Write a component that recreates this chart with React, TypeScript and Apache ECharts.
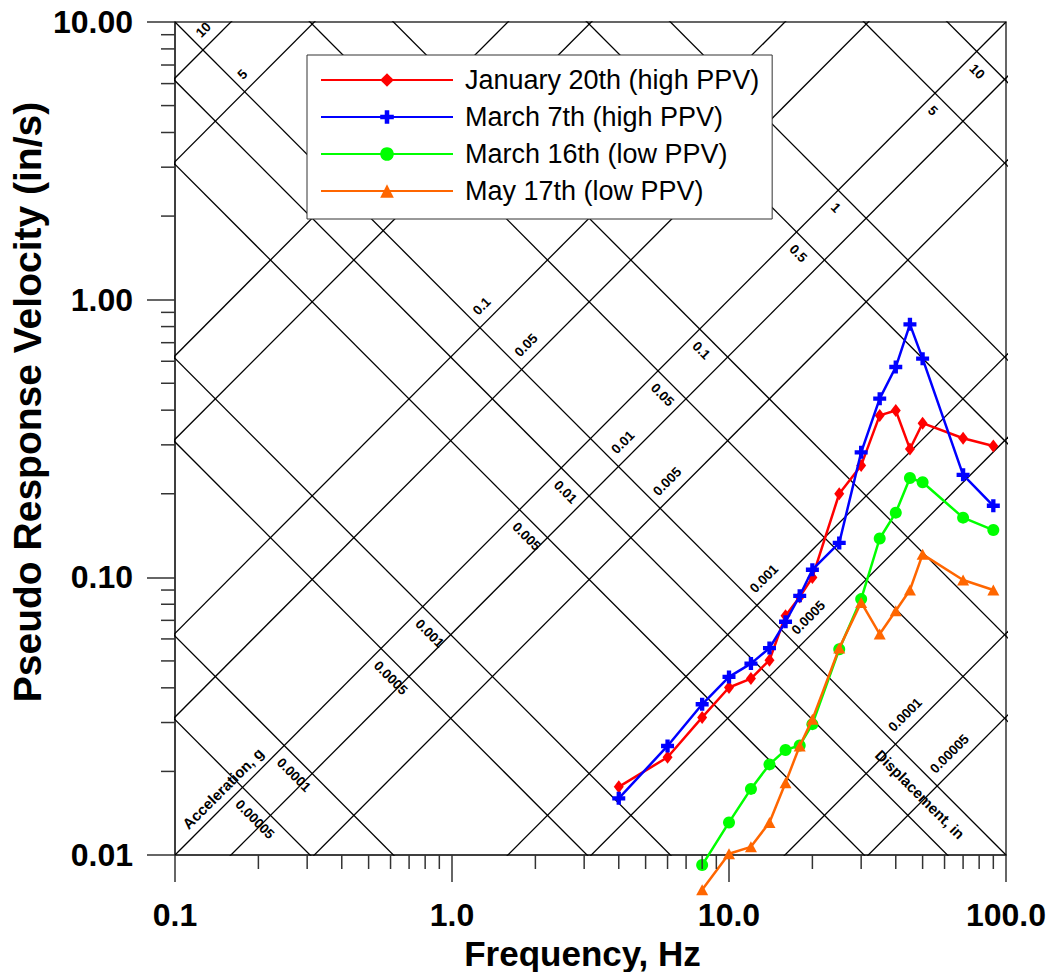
import React, { useEffect, useRef } from "react";
import * as echarts from "echarts";

// ---- data ----
const frequencies = [4, 6, 8, 10, 12, 14, 16, 18, 20, 25, 30, 35, 40, 45, 50, 70, 90];
const lowFrequencies = [8, 10, 12, 14, 16, 18, 20, 25, 30, 35, 40, 45, 50, 70, 90];
const jan20 = [0.0176, 0.0225, 0.0313, 0.0401, 0.0432, 0.0503, 0.0727, 0.085, 0.0999, 0.2, 0.253, 0.383, 0.399, 0.29, 0.359, 0.317, 0.297];
const mar7 = [0.016, 0.0247, 0.0349, 0.0438, 0.0489, 0.0556, 0.0692, 0.0858, 0.1065, 0.133, 0.282, 0.44, 0.572, 0.815, 0.613, 0.234, 0.181];
const mar16 = [0.0092, 0.0131, 0.0173, 0.0212, 0.0239, 0.0248, 0.0296, 0.0551, 0.0835, 0.138, 0.171, 0.228, 0.22, 0.164, 0.148];
const may17 = [0.0075, 0.0101, 0.0107, 0.0131, 0.0182, 0.0247, 0.0308, 0.0556, 0.0812, 0.0625, 0.0758, 0.09, 0.121, 0.0978, 0.09];

const seriesNames = ["January 20th (high PPV)", "March 7th (high PPV)", "March 16th (low PPV)", "May 17th (low PPV)"];
const seriesColors = ["#ff0000", "#0000ff", "#00ff00", "#ff6600"];

const displacementValues = [10, 5, 1, 0.5, 0.1, 0.05, 0.01, 0.005, 0.001, 0.0005, 0.0001, 0.00005];
const displacementLabels = ["10", "5", "1", "0.5", "0.1", "0.05", "0.01", "0.005", "0.001", "0.0005", "0.0001", "0.00005"];
const accelerationValues = [10, 5, 1, 0.5, 0.1, 0.05, 0.01, 0.005, 0.001, 0.0005, 0.0001, 0.00005];
const accelerationLabels = ["10", "5", "1", "0.5", "0.1", "0.05", "0.01", "0.005", "0.001", "0.0005", "0.0001", "0.00005"];

const xTickValues = [0.1, 1, 10, 100];
const xTickLabels = ["0.1", "1.0", "10.0", "100.0"];
const yTickValues = [0.01, 0.1, 1, 10];
const yTickLabels = ["0.01", "0.10", "1.00", "10.00"];
const minorMultipliers = [2, 3, 4, 5, 6, 7, 8, 9];

const X_MIN = 0.1, X_MAX = 100, Y_MIN = 0.01, Y_MAX = 10;
const G_IN = 386.09; // in/s^2 per g
const FONT = '"Liberation Sans", Arial, sans-serif';

const findLabel = (vals: number[], labels: string[], v: number) => {
  const i = vals.findIndex((t) => Math.abs(Math.log10(t) - Math.log10(v)) < 1e-6);
  return i >= 0 ? labels[i] : "";
};

export default function App() {
  const ref = useRef<HTMLDivElement>(null);
  useEffect(() => {
    if (!ref.current) return;
    const chart = echarts.init(ref.current, undefined, { renderer: "svg" });

    const gridLine = (data: number[][]) => ({
      type: "line",
      data,
      symbol: "none",
      silent: true,
      clip: true,
      z: 1,
      lineStyle: { color: "#000", width: 1.3 },
      emphasis: { disabled: true },
    });

    const fLo = 0.01, fHi = 1000;
    const dispSeries = displacementValues.map((D) =>
      gridLine([[fLo, 2 * Math.PI * fLo * D], [fHi, 2 * Math.PI * fHi * D]])
    );
    const accSeries = accelerationValues.map((A) =>
      gridLine([[fLo, (A * G_IN) / (2 * Math.PI * fLo)], [fHi, (A * G_IN) / (2 * Math.PI * fHi)]])
    );
    const diagSeries = [
      gridLine([[X_MIN, Y_MIN], [X_MAX, Y_MAX]]),
      gridLine([[X_MIN, Y_MAX], [X_MAX, Y_MIN]]),
    ];

    const xMinor: number[][] = [];
    [0.1, 1, 10].forEach((d) => minorMultipliers.forEach((m) => xMinor.push([d * m, 1])));
    const yMinor: number[][] = [];
    [0.01, 0.1, 1].forEach((d) => minorMultipliers.forEach((m) => yMinor.push([1, d * m])));

    const tickColor = "#333";
    const minorX = {
      type: "custom",
      silent: true,
      clip: false,
      z: 5,
      data: xMinor,
      renderItem: (params: any, api: any) => {
        const cs = params.coordSys;
        const x = api.coord([api.value(0), 1])[0];
        const y0 = cs.y + cs.height;
        return { type: "line", shape: { x1: x, y1: y0, x2: x, y2: y0 + 14 }, style: { stroke: tickColor, lineWidth: 1.5 } };
      },
    };
    const minorY = {
      type: "custom",
      silent: true,
      clip: false,
      z: 5,
      data: yMinor,
      renderItem: (params: any, api: any) => {
        const cs = params.coordSys;
        const y = api.coord([1, api.value(1)])[1];
        const x0 = cs.x;
        return { type: "line", shape: { x1: x0 - 14, y1: y, x2: x0, y2: y }, style: { stroke: tickColor, lineWidth: 1.5 } };
      },
    };

    const plusPath = "path://M4,0H8V4H12V8H8V12H4V8H0V4H4Z";
    const dataSeries = [
      { xs: frequencies, ys: jan20, symbol: "diamond", size: [10, 13] },
      { xs: frequencies, ys: mar7, symbol: plusPath, size: 13 },
      { xs: lowFrequencies, ys: mar16, symbol: "circle", size: 12 },
      { xs: lowFrequencies, ys: may17, symbol: "triangle", size: [12, 11] },
    ].map((s, k) => ({
      name: seriesNames[k],
      type: "line",
      data: s.xs.map((f, i) => [f, s.ys[i]]),
      symbol: s.symbol,
      symbolSize: s.size,
      showAllSymbol: true,
      clip: false,
      z: 3 + k * 0.01,
      itemStyle: { color: seriesColors[k] },
      lineStyle: { color: seriesColors[k], width: 2.5 },
      emphasis: { disabled: true },
    }));

    chart.setOption({
      animation: false,
      grid: { left: 175, right: 48, top: 22, bottom: 117, show: true, borderColor: tickColor, borderWidth: 1.5, backgroundColor: "transparent" },
      xAxis: {
        type: "log",
        logBase: 10,
        min: X_MIN,
        max: X_MAX,
        axisLine: { lineStyle: { color: tickColor, width: 1.5 } },
        axisTick: { length: 27, lineStyle: { color: tickColor, width: 1.5 } },
        splitLine: { show: false },
        minorTick: { show: false },
        axisLabel: {
          margin: 44,
          fontSize: 32,
          fontWeight: "bold",
          color: "#000",
          fontFamily: FONT,
          formatter: (v: number) => findLabel(xTickValues, xTickLabels, v),
        },
      },
      yAxis: {
        type: "log",
        logBase: 10,
        min: Y_MIN,
        max: Y_MAX,
        axisLine: { show: true, lineStyle: { color: tickColor, width: 1.5 } },
        axisTick: { show: true, length: 28, lineStyle: { color: tickColor, width: 1.5 } },
        splitLine: { show: false },
        axisLabel: {
          margin: 42,
          fontSize: 32,
          fontWeight: "bold",
          color: "#000",
          fontFamily: FONT,
          formatter: (v: number) => findLabel(yTickValues, yTickLabels, v),
        },
      },
      legend: {
        data: seriesNames,
        orient: "vertical",
        left: 307,
        top: 55,
        padding: [11, 13, 14, 13],
        itemGap: 9,
        itemWidth: 132,
        itemHeight: 17,
        backgroundColor: "#fff",
        borderColor: "#333",
        borderWidth: 1,
        borderRadius: 0,
        selectedMode: false,
        textStyle: { fontSize: 27, color: "#000", fontFamily: FONT, lineHeight: 28, padding: [0, 0, 0, 7] },
        lineStyle: { width: 2 },
      },
      series: [...dispSeries, ...accSeries, ...diagSeries, minorX, minorY, ...dataSeries],
    });

    const toPx = (f: number, v: number) => chart.convertToPixel({ gridIndex: 0 } as any, [f, v]) as number[];
    const textStyle = (text: string, size: number, align: string) => ({
      text,
      fontSize: size,
      fontWeight: "bold",
      fontFamily: FONT,
      fill: "#000",
      textAlign: align,
      align,
      textVerticalAlign: "middle",
      verticalAlign: "middle",
    });
    const graphics: any[] = [];
    accelerationValues.forEach((A, i) => {
      const f = Math.sqrt((10 * G_IN * A) / (2 * Math.PI));
      const [px, py] = toPx(f, f / 10);
      graphics.push({
        type: "text",
        x: px - 4.95,
        y: py + 14.85,
        rotation: -Math.PI / 4,
        z: 1,
        silent: true,
        style: textStyle(accelerationLabels[i], 13.5, "left"),
      });
    });
    displacementValues.forEach((D, i) => {
      const f = 1 / Math.sqrt(2 * Math.PI * D);
      const [px, py] = toPx(f, 1 / f);
      graphics.push({
        type: "text",
        x: px - 4.95,
        y: py - 14.85,
        rotation: Math.PI / 4,
        z: 1,
        silent: true,
        style: textStyle(displacementLabels[i], 13.5, "left"),
      });
    });
    {
      const fa = 0.1609;
      const [px, py] = toPx(fa, fa / 10);
      graphics.push({
        type: "text",
        x: px - 9.25,
        y: py - 9.25,
        rotation: Math.PI / 4,
        z: 1,
        silent: true,
        style: textStyle("Acceleration, g", 15, "center"),
      });
      const fd = 54.4;
      const [qx, qy] = toPx(fd, 1 / fd);
      graphics.push({
        type: "text",
        x: qx - 12.75,
        y: qy + 12.75,
        rotation: -Math.PI / 4,
        z: 1,
        silent: true,
        style: textStyle("Displacement, in", 15, "center"),
      });
    }
    graphics.push({
      type: "text",
      x: 582.5,
      y: 953,
      z: 5,
      silent: true,
      style: textStyle("Frequency, Hz", 35, "center"),
    });
    graphics.push({
      type: "text",
      x: 27,
      y: 402,
      rotation: Math.PI / 2,
      z: 5,
      silent: true,
      style: textStyle("Pseudo Response Velocity (in/s)", 39, "center"),
    });
    chart.setOption({ graphic: graphics });

    return () => chart.dispose();
  }, []);
  return <div ref={ref} style={{ position: "absolute", left: 0, top: 0, width: 1054, height: 972, background: "#fff" }} />;
}
